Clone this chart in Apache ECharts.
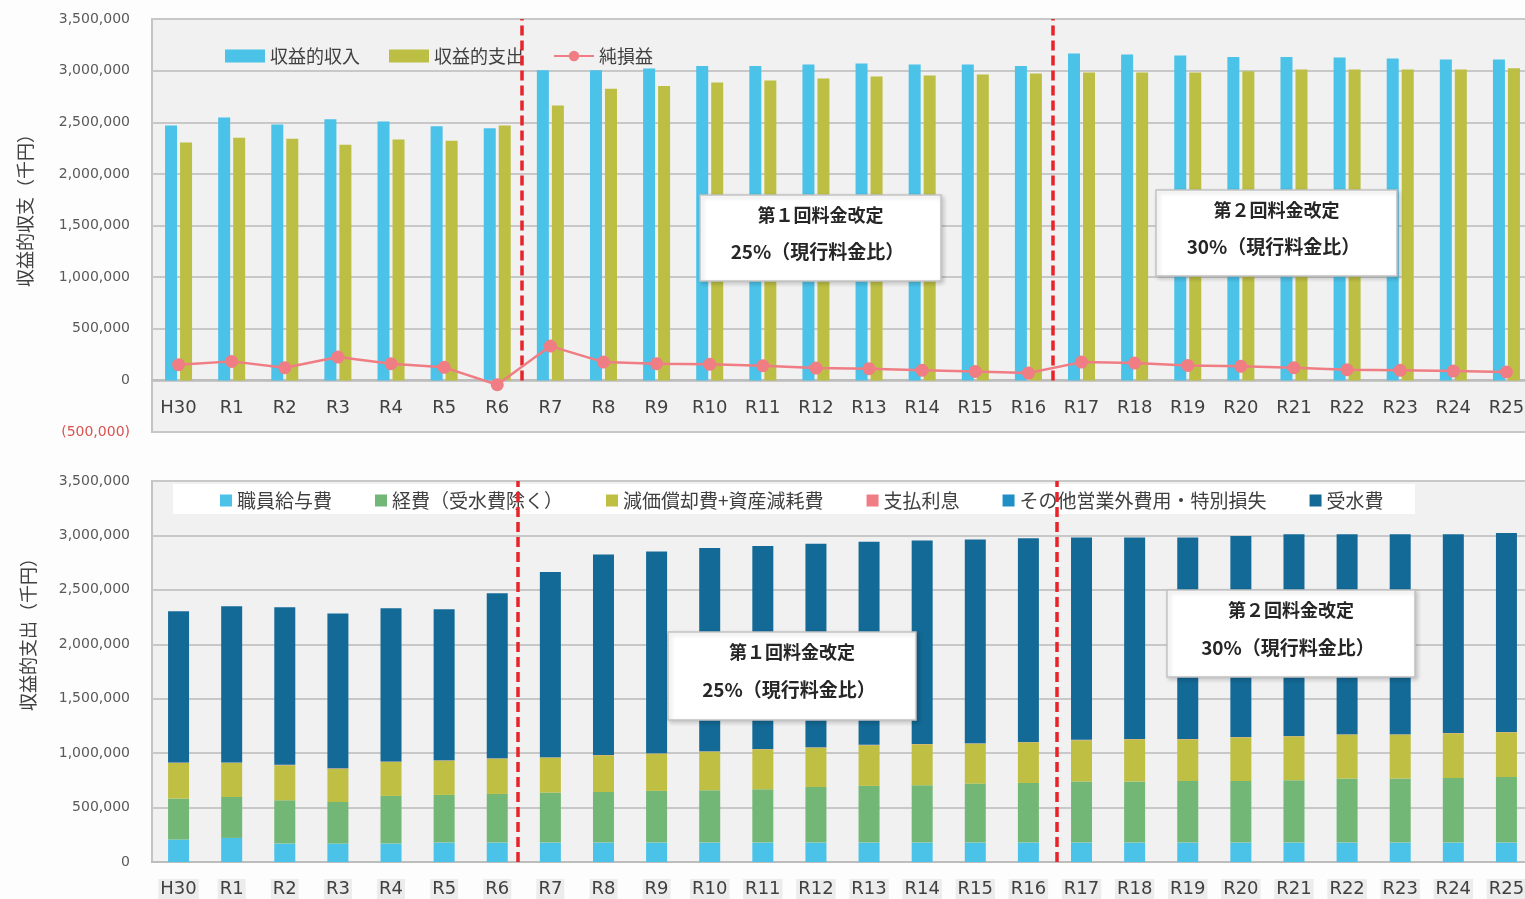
<!DOCTYPE html>
<html lang="ja">
<head>
<meta charset="utf-8">
<title>収益的収支の見通し</title>
<script src="https://cdn.jsdelivr.net/npm/echarts@6/dist/echarts.min.js"></script>
<style>
  html, body { margin: 0; padding: 0; background: #fdfdfd; }
  #chart { width: 1525px; height: 899px; }
</style>
</head>
<body>
<div id="chart"></div>
<script>
// 年度
const categories = ['H30', 'R1', 'R2', 'R3', 'R4', 'R5', 'R6', 'R7', 'R8', 'R9', 'R10', 'R11', 'R12',
  'R13', 'R14', 'R15', 'R16', 'R17', 'R18', 'R19', 'R20', 'R21', 'R22', 'R23', 'R24', 'R25'];

// 収益的収支（千円）
const revenue = [2468000, 2545000, 2477000, 2529000, 2507000, 2461000, 2442000, 3004000, 3004000, 3020000,
  3046000, 3046000, 3059000, 3069000, 3059000, 3059000, 3046000, 3166000, 3156000, 3146000,
  3133000, 3133000, 3127000, 3117000, 3107000, 3107000];
const expense = [2305000, 2351000, 2341000, 2283000, 2332000, 2321000, 2469000, 2663000, 2824000, 2852000,
  2885000, 2904000, 2923000, 2943000, 2953000, 2962000, 2973000, 2981000, 2981000, 2981000,
  2994000, 3011000, 3010000, 3010000, 3010000, 3022000];
const netIncome = [152000, 184000, 123000, 226000, 162000, 126000, -42000, 332000, 177000, 162000,
  155000, 142000, 119000, 113000, 97000, 87000, 71000, 177000, 168000, 145000,
  136000, 123000, 104000, 97000, 90000, 81000];

// 収益的支出の内訳（千円）
const salary = [206000, 221000, 169000, 169000, 169000, 178000, 178000, 178000, 178000, 178000,
  178000, 178000, 178000, 178000, 178000, 178000, 178000, 178000, 178000, 178000,
  178000, 178000, 178000, 178000, 178000, 178000];
const operating = [377000, 376000, 398000, 382000, 438000, 438000, 447000, 460000, 465000, 475000,
  481000, 490000, 511000, 521000, 527000, 542000, 548000, 561000, 561000, 566000,
  566000, 573000, 589000, 589000, 594000, 603000];
const depreciation = [327000, 313000, 322000, 307000, 312000, 316000, 325000, 322000, 338000, 343000,
  356000, 368000, 362000, 374000, 377000, 368000, 374000, 380000, 389000, 384000,
  402000, 404000, 404000, 404000, 411000, 411000];
const interest = [3000, 2000, 3000, 3000, 3000, 2000, 2000, 2000, 2000, 2000,
  2000, 2000, 2000, 2000, 2000, 2000, 2000, 2000, 2000, 2000,
  2000, 2000, 2000, 2000, 2000, 2000];
const otherCost = [1000, 1000, 1000, 1000, 1000, 1000, 1000, 1000, 1000, 1000,
  1000, 1000, 1000, 1000, 1000, 1000, 1000, 1000, 1000, 1000,
  1000, 1000, 1000, 1000, 1000, 1000];
const waterPurchase = [1390000, 1437000, 1448000, 1421000, 1409000, 1386000, 1516000, 1700000, 1840000, 1853000,
  1867000, 1865000, 1869000, 1867000, 1868000, 1871000, 1870000, 1859000, 1850000, 1850000,
  1845000, 1853000, 1836000, 1836000, 1824000, 1827000];

// 料金改定の時期（年度の区切り位置）
const revisionTop = [6.97, 16.95];
const revisionBottom = [6.88, 17.03];

const FONT = "'DejaVu Sans', 'Noto Sans CJK JP', sans-serif";
const JP = "'Noto Sans CJK JP', sans-serif";

const chart = echarts.init(document.getElementById('chart'));

const fmt = v => Math.abs(v).toLocaleString('en-US');

function valueAxis(grid, min) {
  return {
    type: 'value', gridIndex: grid, min: min, max: 3500000, interval: 500000,
    axisLine: { show: false, onZero: false }, axisTick: { show: false },
    splitLine: { lineStyle: { color: '#c8c8c8', width: 2 } },
    axisLabel: {
      fontSize: 14, fontFamily: FONT, margin: 22,
      color: v => (v < 0 ? '#d9534f' : '#595959'),
      formatter: v => (v < 0 ? '(' + fmt(v) + ')' : fmt(v))
    }
  };
}

// 上段は 0 の目盛り位置（グリッド下端から 52px 上）に軸を置く
function categoryAxis(grid, margin, labelBg, offset) {
  return {
    type: 'category', gridIndex: grid, data: categories, position: 'bottom', offset: offset,
    axisLine: { onZero: false, lineStyle: { color: '#bdbdbd', width: 2 } },
    axisTick: { inside: grid === 0, length: 5, lineStyle: { color: '#9c9c9c', width: 1.5 } },
    axisLabel: {
      fontSize: 18, fontFamily: FONT, color: '#404040', margin: margin,
      backgroundColor: labelBg, padding: labelBg ? [1, 2] : 0
    }
  };
}

function hiddenAxis(grid) {
  return { type: 'value', gridIndex: grid, min: 0, max: categories.length, show: false,
    position: 'top', axisLine: { onZero: false } };
}

function dividerSeries(xIdx, yIdx, positions) {
  return {
    type: 'line', xAxisIndex: xIdx, yAxisIndex: yIdx, data: [], z: 10, silent: true,
    markLine: {
      symbol: 'none', silent: true, animation: false,
      label: { show: false },
      lineStyle: { color: '#e8242a', width: 3.5, type: [10, 5] },
      data: positions.map(p => [{ coord: [p, 0] }, { coord: [p, 3500000] }])
    }
  };
}

function noteBox(x, y, w, h, line1, line2) {
  return {
    type: 'group', x: x, y: y,
    children: [
      { type: 'rect', z: 50, shape: { x: 0, y: 0, width: w, height: h },
        style: { fill: '#ffffff', stroke: '#c2c2c2', lineWidth: 1.5,
          shadowBlur: 4, shadowOffsetX: 2, shadowOffsetY: 2, shadowColor: 'rgba(0,0,0,0.18)' } },
      { type: 'text', z: 51, x: w / 2, y: h * 0.23,
        style: { text: line1, align: 'center', verticalAlign: 'middle',
          font: 'bold 18px ' + JP, fill: '#262626' } },
      { type: 'text', z: 51, x: w / 2 - 3, y: h * 0.66,
        style: { text: line2, align: 'center', verticalAlign: 'middle',
          font: 'bold 19px ' + JP, fill: '#262626' } }
    ]
  };
}

const bottomStack = [
  ['職員給与費', salary, '#4bc2e8'],
  ['経費（受水費除く）', operating, '#73b776'],
  ['減価償却費+資産減耗費', depreciation, '#bfbf44'],
  ['支払利息', interest, '#ef7d83'],
  ['その他営業外費用・特別損失', otherCost, '#1f8fc6'],
  ['受水費', waterPurchase, '#146a97']
];

const option = {
  backgroundColor: '#fdfdfd',
  animation: false,
  textStyle: { fontFamily: FONT },
  grid: [
    { left: 152, top: 19, right: -8, height: 413, show: true, backgroundColor: '#f1f1f1',
      borderColor: '#c4c4c4', borderWidth: 2, containLabel: false, outerBoundsMode: 'none' },
    { left: 152, top: 481, right: -8, height: 381, show: true, backgroundColor: '#f1f1f1',
      borderColor: '#c4c4c4', borderWidth: 2, containLabel: false, outerBoundsMode: 'none' }
  ],
  xAxis: [
    categoryAxis(0, 19, null, -52),
    hiddenAxis(0),
    categoryAxis(1, 17, '#ececec', 0),
    hiddenAxis(1)
  ],
  yAxis: [valueAxis(0, -500000), valueAxis(1, 0)],
  legend: [
    {
      left: 220, top: 42, itemWidth: 40, itemHeight: 13, itemGap: 29,
      textStyle: { fontSize: 18, fontFamily: JP, color: '#404040' },
      data: [{ name: '収益的収入', icon: 'rect' }, { name: '収益的支出', icon: 'rect' }, { name: '純損益' }]
    },
    {
      left: 215, top: 486, itemWidth: 12, itemHeight: 12, itemGap: 43, icon: 'rect',
      textStyle: { fontSize: 19, fontFamily: JP, color: '#404040' },
      data: bottomStack.map(s => s[0])
    }
  ],
  graphic: [
    { type: 'rect', z: 2, shape: { x: 173, y: 484, width: 1242, height: 30 },
      style: { fill: '#ffffff' } },
    { type: 'text', x: 25, y: 206, rotation: Math.PI / 2, z: 5,
      style: { text: '収益的収支（千円）', align: 'center', verticalAlign: 'middle',
        font: '18px ' + JP, fill: '#404040' } },
    { type: 'text', x: 28, y: 630, rotation: Math.PI / 2, z: 5,
      style: { text: '収益的支出（千円）', align: 'center', verticalAlign: 'middle',
        font: '18px ' + JP, fill: '#404040' } },
    noteBox(700, 195, 241, 86, '第１回料金改定', '25%（現行料金比）'),
    noteBox(1156, 190, 241, 86, '第２回料金改定', '30%（現行料金比）'),
    noteBox(668, 632, 248, 88, '第１回料金改定', '25%（現行料金比）'),
    noteBox(1167, 590, 248, 87, '第２回料金改定', '30%（現行料金比）')
  ],
  series: [
    { name: '収益的収入', type: 'bar', xAxisIndex: 0, yAxisIndex: 0, data: revenue,
      barWidth: 12, barGap: '25%', itemStyle: { color: '#4bc2e8' } },
    { name: '収益的支出', type: 'bar', xAxisIndex: 0, yAxisIndex: 0, data: expense,
      barWidth: 12, barGap: '25%', itemStyle: { color: '#bcbf44' } },
    { name: '純損益', type: 'line', xAxisIndex: 0, yAxisIndex: 0, data: netIncome, z: 5,
      symbol: 'circle', symbolSize: 13, itemStyle: { color: '#ef7d83' },
      lineStyle: { color: '#ef7d83', width: 2.5 } },
    dividerSeries(1, 0, revisionTop),
    ...bottomStack.map(s => ({
      name: s[0], type: 'bar', stack: 'cost', xAxisIndex: 2, yAxisIndex: 1, data: s[1],
      barWidth: 21, itemStyle: { color: s[2] }
    })),
    dividerSeries(3, 1, revisionBottom)
  ]
};

chart.setOption(option);
</script>
</body>
</html>
